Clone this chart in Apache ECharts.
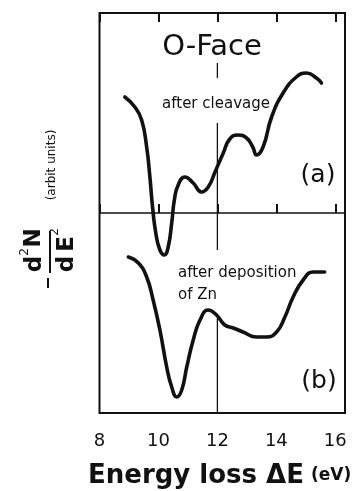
<!DOCTYPE html>
<html><head><meta charset="utf-8">
<script src="https://cdn.jsdelivr.net/npm/echarts@6/dist/echarts.min.js"></script>
<style>html,body{margin:0;padding:0;background:#fff}#c{width:364px;height:491px}</style>
</head><body><div id="c"></div>
<script>
// Energy loss (eV) and -d2N/dE2 (arbitrary units), curve (a) after cleavage
var xA = [8.86,9.20,9.43,9.60,9.71,9.80,9.91,10.05,10.20,10.33,10.45,10.54,10.67,10.90,11.18,11.46,11.69,11.92,12.20,12.42,12.70,12.99,13.20,13.33,13.55,13.84,14.23,14.68,15.02,15.36,15.53];
var yA = [116,106,93,66,36,6,-20,-37,-42,-34,-10,13,28,36,30,21,26,41,60,74,78,75,66,58,66,96,120,136,140,135,130];
// curve (b) after deposition of Zn
var xB = [8.98,9.32,9.60,9.82,10.05,10.28,10.45,10.62,10.79,10.96,11.18,11.41,11.69,11.97,12.25,12.54,12.87,13.33,13.67,14.01,14.29,14.57,14.91,15.25,15.64];
var yB = [-44,-50,-64,-87,-117,-154,-174,-184,-177,-154,-127,-107,-97,-102,-112,-115,-119,-124,-124,-119,-104,-84,-67,-59,-59];
var xTicks = ['8','10','12','14','16'];
var xMin = 8, xMax = 16.33, yMin = -200, yMax = 200;
// reference line at 12 eV (broken where text crosses it)
var vLine = [[12,150],[12,135],[12,'-'],[12,90],[12,-37],[12,'-'],[12,-105],[12,-200]];

function pairs(xs, ys){ return xs.map(function(x,i){return [x, ys[i]];}); }

var chart = echarts.init(document.getElementById('c'), null, {renderer:'canvas'});
var F = 'DejaVu Sans, sans-serif';
var txt = function(t, x, y, size, opts){
  opts = opts || {};
  return {type:'text', x:x, y:y, rotation: opts.rot || 0, z:10,
    style:{text:t, font:(opts.weight||'normal')+' '+size+'px '+F, fill:'#111',
      textAlign: opts.align || 'center', textVerticalAlign:'middle'}};
};
chart.setOption({
  animation:false,
  grid:{left:99.5, right:19, top:13, bottom:78, show:true, borderColor:'#111', borderWidth:2, backgroundColor:'transparent'},
  xAxis:[{type:'value', min:xMin, max:xMax, interval:2, position:'bottom',
      axisLine:{show:false}, splitLine:{show:false},
      axisTick:{show:true, inside:true, length:9, lineStyle:{color:'#111', width:2}},
      axisLabel:{margin:19, fontSize:18, color:'#111', fontFamily:F, showMaxLabel:false,
        formatter:function(v){ var i = Math.round((v-8)/2); return (Math.abs(v-(8+2*i))<1e-6 && xTicks[i]) ? xTicks[i] : ''; }}},
    {type:'value', min:xMin, max:xMax, interval:2, position:'top',
      axisLine:{show:false}, splitLine:{show:false}, axisLabel:{show:false},
      axisTick:{show:true, inside:true, length:9, lineStyle:{color:'#111', width:2}}}],
  yAxis:{type:'value', min:yMin, max:yMax, show:false},
  series:[
    {type:'line', data:[[xMin,0],[xMax,0]], symbol:'none', lineStyle:{color:'#111', width:1.3}, silent:true},
    {type:'line', data:vLine, symbol:'none', connectNulls:false, lineStyle:{color:'#111', width:1.3}, silent:true},
    {type:'line', data:pairs(xA,yA), smooth:0.5, symbol:'none', lineStyle:{color:'#111', width:3.6, join:'round', cap:'round'}},
    {type:'line', data:pairs(xB,yB), smooth:0.5, symbol:'none', lineStyle:{color:'#111', width:3.6, join:'round', cap:'round'}}
  ],
  graphic:[
    txt('O-Face', 212, 47, 29),
    txt('after cleavage', 216, 104, 15),
    txt('(a)', 318, 175, 25),
    txt('after deposition', 178, 273, 15, {align:'left'}),
    txt('of Zn', 178, 295, 15, {align:'left'}),
    txt('(b)', 319, 381, 25),
    txt('Energy loss \u0394E', 88, 476, 26, {align:'left', weight:'bold'}),
    txt('(eV)', 311, 476, 17, {align:'left', weight:'bold'}),
    // y-axis label, rotated
    txt('d', 35, 264, 23, {rot:Math.PI/2, weight:'bold'}),
    txt('2', 25, 252, 12, {rot:Math.PI/2}),
    txt('N', 34, 238, 23, {rot:Math.PI/2, weight:'bold'}),
    txt('d', 67, 264, 23, {rot:Math.PI/2, weight:'bold'}),
    txt('E', 67, 244, 23, {rot:Math.PI/2, weight:'bold'}),
    txt('2', 55, 232, 12, {rot:Math.PI/2}),
    txt('(arbit units)', 52, 165, 12, {rot:Math.PI/2}),
    {type:'line', shape:{x1:50, y1:231, x2:50, y2:273}, style:{stroke:'#111', lineWidth:2}},
    {type:'line', shape:{x1:48, y1:278, x2:48, y2:288}, style:{stroke:'#111', lineWidth:2}}
  ]
});
</script></body></html>
